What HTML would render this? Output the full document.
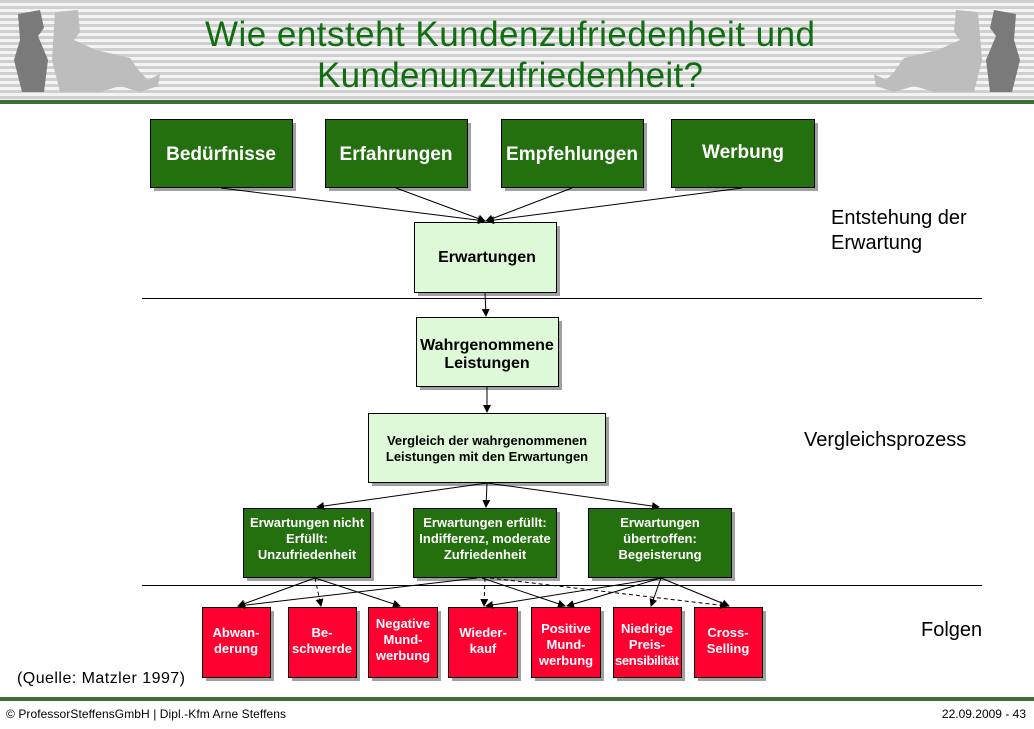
<!DOCTYPE html>
<html><head><meta charset="utf-8"><style>
body{margin:0;width:1034px;height:724px;overflow:hidden;background:#fff;font-family:"Liberation Sans",sans-serif}
</style></head><body>
<svg width="1034" height="724" xmlns="http://www.w3.org/2000/svg" font-family="Liberation Sans, sans-serif">
<defs>
<pattern id="st" width="10" height="6" patternUnits="userSpaceOnUse"><rect width="10" height="3" fill="#cfcfcf"/><rect y="3" width="10" height="3" fill="#f4f4f4"/></pattern>
<marker id="a" markerWidth="8" markerHeight="8" refX="7" refY="4" orient="auto" markerUnits="userSpaceOnUse"><path d="M0,0 L8,4 L0,8 z" fill="#000"/></marker>
</defs>
<rect x="0" y="0" width="1034" height="100" fill="url(#st)"/>
<rect x="0" y="100" width="1034" height="4" fill="#3d6e35"/>
<!-- animals left -->
<g fill="#7a7a7a"><path d="M18,14 L40,10 L44,28 L38,36 L48,60 L44,92 L22,92 L14,60 L20,40 Z"/></g>
<g fill="#bdbdbd"><path d="M55,12 L78,10 L80,32 L74,40 L96,50 L130,58 L140,72 L148,80 L160,74 L158,86 L140,92 L120,86 L100,92 L60,92 L52,60 Z"/></g>
<g fill="#7a7a7a"><path d="M1016,14 L994,10 L990,28 L996,36 L986,60 L990,92 L1012,92 L1020,60 L1014,40 Z"/></g>
<g fill="#bdbdbd"><path d="M978,12 L956,10 L954,32 L960,40 L938,50 L904,58 L894,72 L886,80 L874,74 L876,86 L894,92 L914,86 L934,92 L974,92 L982,60 Z"/></g>
<text x="510" y="46" text-anchor="middle" font-size="35" fill="#0f6e0f" textLength="610">Wie entsteht Kundenzufriedenheit und</text>
<text x="510" y="87" text-anchor="middle" font-size="35" fill="#0f6e0f" textLength="386">Kundenunzufriedenheit?</text>

<g fill="#a0a0a0">
<rect x="154" y="123" width="142" height="68"/><rect x="329" y="123" width="142" height="68"/><rect x="505" y="123" width="142" height="68"/><rect x="675" y="123" width="143" height="68"/>
<rect x="418" y="226" width="142" height="70"/><rect x="420" y="321" width="142" height="69"/><rect x="372" y="417" width="237" height="69"/>
<rect x="247" y="512" width="127" height="69"/><rect x="417" y="512" width="143" height="69"/><rect x="592" y="512" width="143" height="69"/>
<rect x="206" y="611" width="68" height="70"/><rect x="292" y="611" width="68" height="70"/><rect x="372" y="611" width="69" height="70"/><rect x="452" y="611" width="69" height="70"/><rect x="535" y="611" width="69" height="70"/><rect x="617" y="611" width="68" height="70"/><rect x="698" y="611" width="68" height="70"/>
</g>
<g fill="#246f0e" stroke="#000" stroke-width="1">
<rect x="150.5" y="119.5" width="142" height="68"/><rect x="325.5" y="119.5" width="142" height="68"/><rect x="501.5" y="119.5" width="142" height="68"/><rect x="671.5" y="119.5" width="143" height="68"/>
<rect x="243.5" y="508.5" width="127" height="69"/><rect x="413.5" y="508.5" width="143" height="69"/><rect x="588.5" y="508.5" width="143" height="69"/>
</g>
<g fill="#ddf9d7" stroke="#000" stroke-width="1">
<rect x="414.5" y="222.5" width="142" height="70"/><rect x="416.5" y="317.5" width="142" height="69"/><rect x="368.5" y="413.5" width="237" height="69"/>
</g>
<g fill="#ff0030" stroke="#000" stroke-width="1">
<rect x="202.5" y="607.5" width="68" height="70"/><rect x="288.5" y="607.5" width="68" height="70"/><rect x="368.5" y="607.5" width="69" height="70"/><rect x="448.5" y="607.5" width="69" height="70"/><rect x="531.5" y="607.5" width="69" height="70"/><rect x="613.5" y="607.5" width="68" height="70"/><rect x="694.5" y="607.5" width="68" height="70"/>
</g>
<g stroke="#000" stroke-width="1">
<line x1="142" y1="298.5" x2="982" y2="298.5"/><line x1="142" y1="585.5" x2="982" y2="585.5"/>
</g>
<g stroke="#000" stroke-width="1" marker-end="url(#a)" fill="none">
<line x1="221" y1="188" x2="485" y2="221"/><line x1="396" y1="188" x2="485" y2="221"/><line x1="572" y1="188" x2="486" y2="221"/><line x1="742" y1="188" x2="487" y2="221"/>
<line x1="485" y1="293" x2="486" y2="316"/><line x1="487" y1="387" x2="487" y2="412"/>
<line x1="487" y1="483" x2="317" y2="507"/><line x1="487" y1="483" x2="486" y2="507"/><line x1="487" y1="483" x2="659" y2="507"/>
<line x1="315" y1="578" x2="238" y2="606"/><line x1="315" y1="578" x2="400" y2="606"/>
<line x1="477" y1="578" x2="238" y2="606"/><line x1="482" y1="578" x2="565" y2="606"/>
<line x1="661" y1="578" x2="486" y2="606"/><line x1="661" y1="578" x2="567" y2="606"/><line x1="661" y1="578" x2="651" y2="606"/><line x1="661" y1="578" x2="729" y2="606"/>
</g>
<g stroke="#000" stroke-width="1" stroke-dasharray="4,3" marker-end="url(#a)" fill="none">
<line x1="315" y1="578" x2="321" y2="606"/><line x1="485" y1="578" x2="484" y2="606"/><line x1="490" y1="578" x2="727" y2="606"/>
</g>
<g fill="#fff" font-weight="bold" text-anchor="middle">
<g font-size="19"><text x="221" y="160">Bedürfnisse</text><text x="396" y="160">Erfahrungen</text><text x="572" y="160">Empfehlungen</text><text x="743" y="158">Werbung</text></g>
<g font-size="13"><text x="307" y="527">Erwartungen nicht</text><text x="307" y="543">Erfüllt:</text><text x="307" y="559">Unzufriedenheit</text>
<text x="485" y="527">Erwartungen erfüllt:</text><text x="485" y="543">Indifferenz, moderate</text><text x="485" y="559">Zufriedenheit</text>
<text x="660" y="527">Erwartungen</text><text x="660" y="543">übertroffen:</text><text x="660" y="559">Begeisterung</text></g>
<g font-size="13"><text x="236" y="637">Abwan-</text><text x="236" y="653">derung</text>
<text x="322" y="637">Be-</text><text x="322" y="653">schwerde</text>
<text x="403" y="628">Negative</text><text x="403" y="644">Mund-</text><text x="403" y="660">werbung</text>
<text x="483" y="637">Wieder-</text><text x="483" y="653">kauf</text>
<text x="566" y="633">Positive</text><text x="566" y="649">Mund-</text><text x="566" y="665">werbung</text>
<text x="647" y="633">Niedrige</text><text x="647" y="649">Preis-</text><text x="647" y="665" textLength="64">sensibilität</text>
<text x="728" y="637">Cross-</text><text x="728" y="653">Selling</text></g>
</g>
<g fill="#000" font-weight="bold" text-anchor="middle">
<text x="487" y="262" font-size="16">Erwartungen</text>
<text x="487" y="350" font-size="16">Wahrgenommene</text><text x="487" y="368" font-size="16">Leistungen</text>
<text x="487" y="445" font-size="13">Vergleich der wahrgenommenen</text><text x="487" y="461" font-size="13">Leistungen mit den Erwartungen</text>
</g>
<g fill="#000" font-size="20">
<text x="831" y="224">Entstehung der</text><text x="831" y="249">Erwartung</text>
<text x="804" y="446">Vergleichsprozess</text>
<text x="921" y="636">Folgen</text>
</g>
<text x="17" y="683" font-size="16" textLength="168">(Quelle: Matzler 1997)</text>
<rect x="0" y="697" width="1034" height="4" fill="#3d6e35"/>
<text x="6" y="718" font-size="12" textLength="280">© ProfessorSteffensGmbH | Dipl.-Kfm Arne Steffens</text>
<text x="1026" y="718" font-size="12" text-anchor="end">22.09.2009 - 43</text>
</svg>
</body></html>
